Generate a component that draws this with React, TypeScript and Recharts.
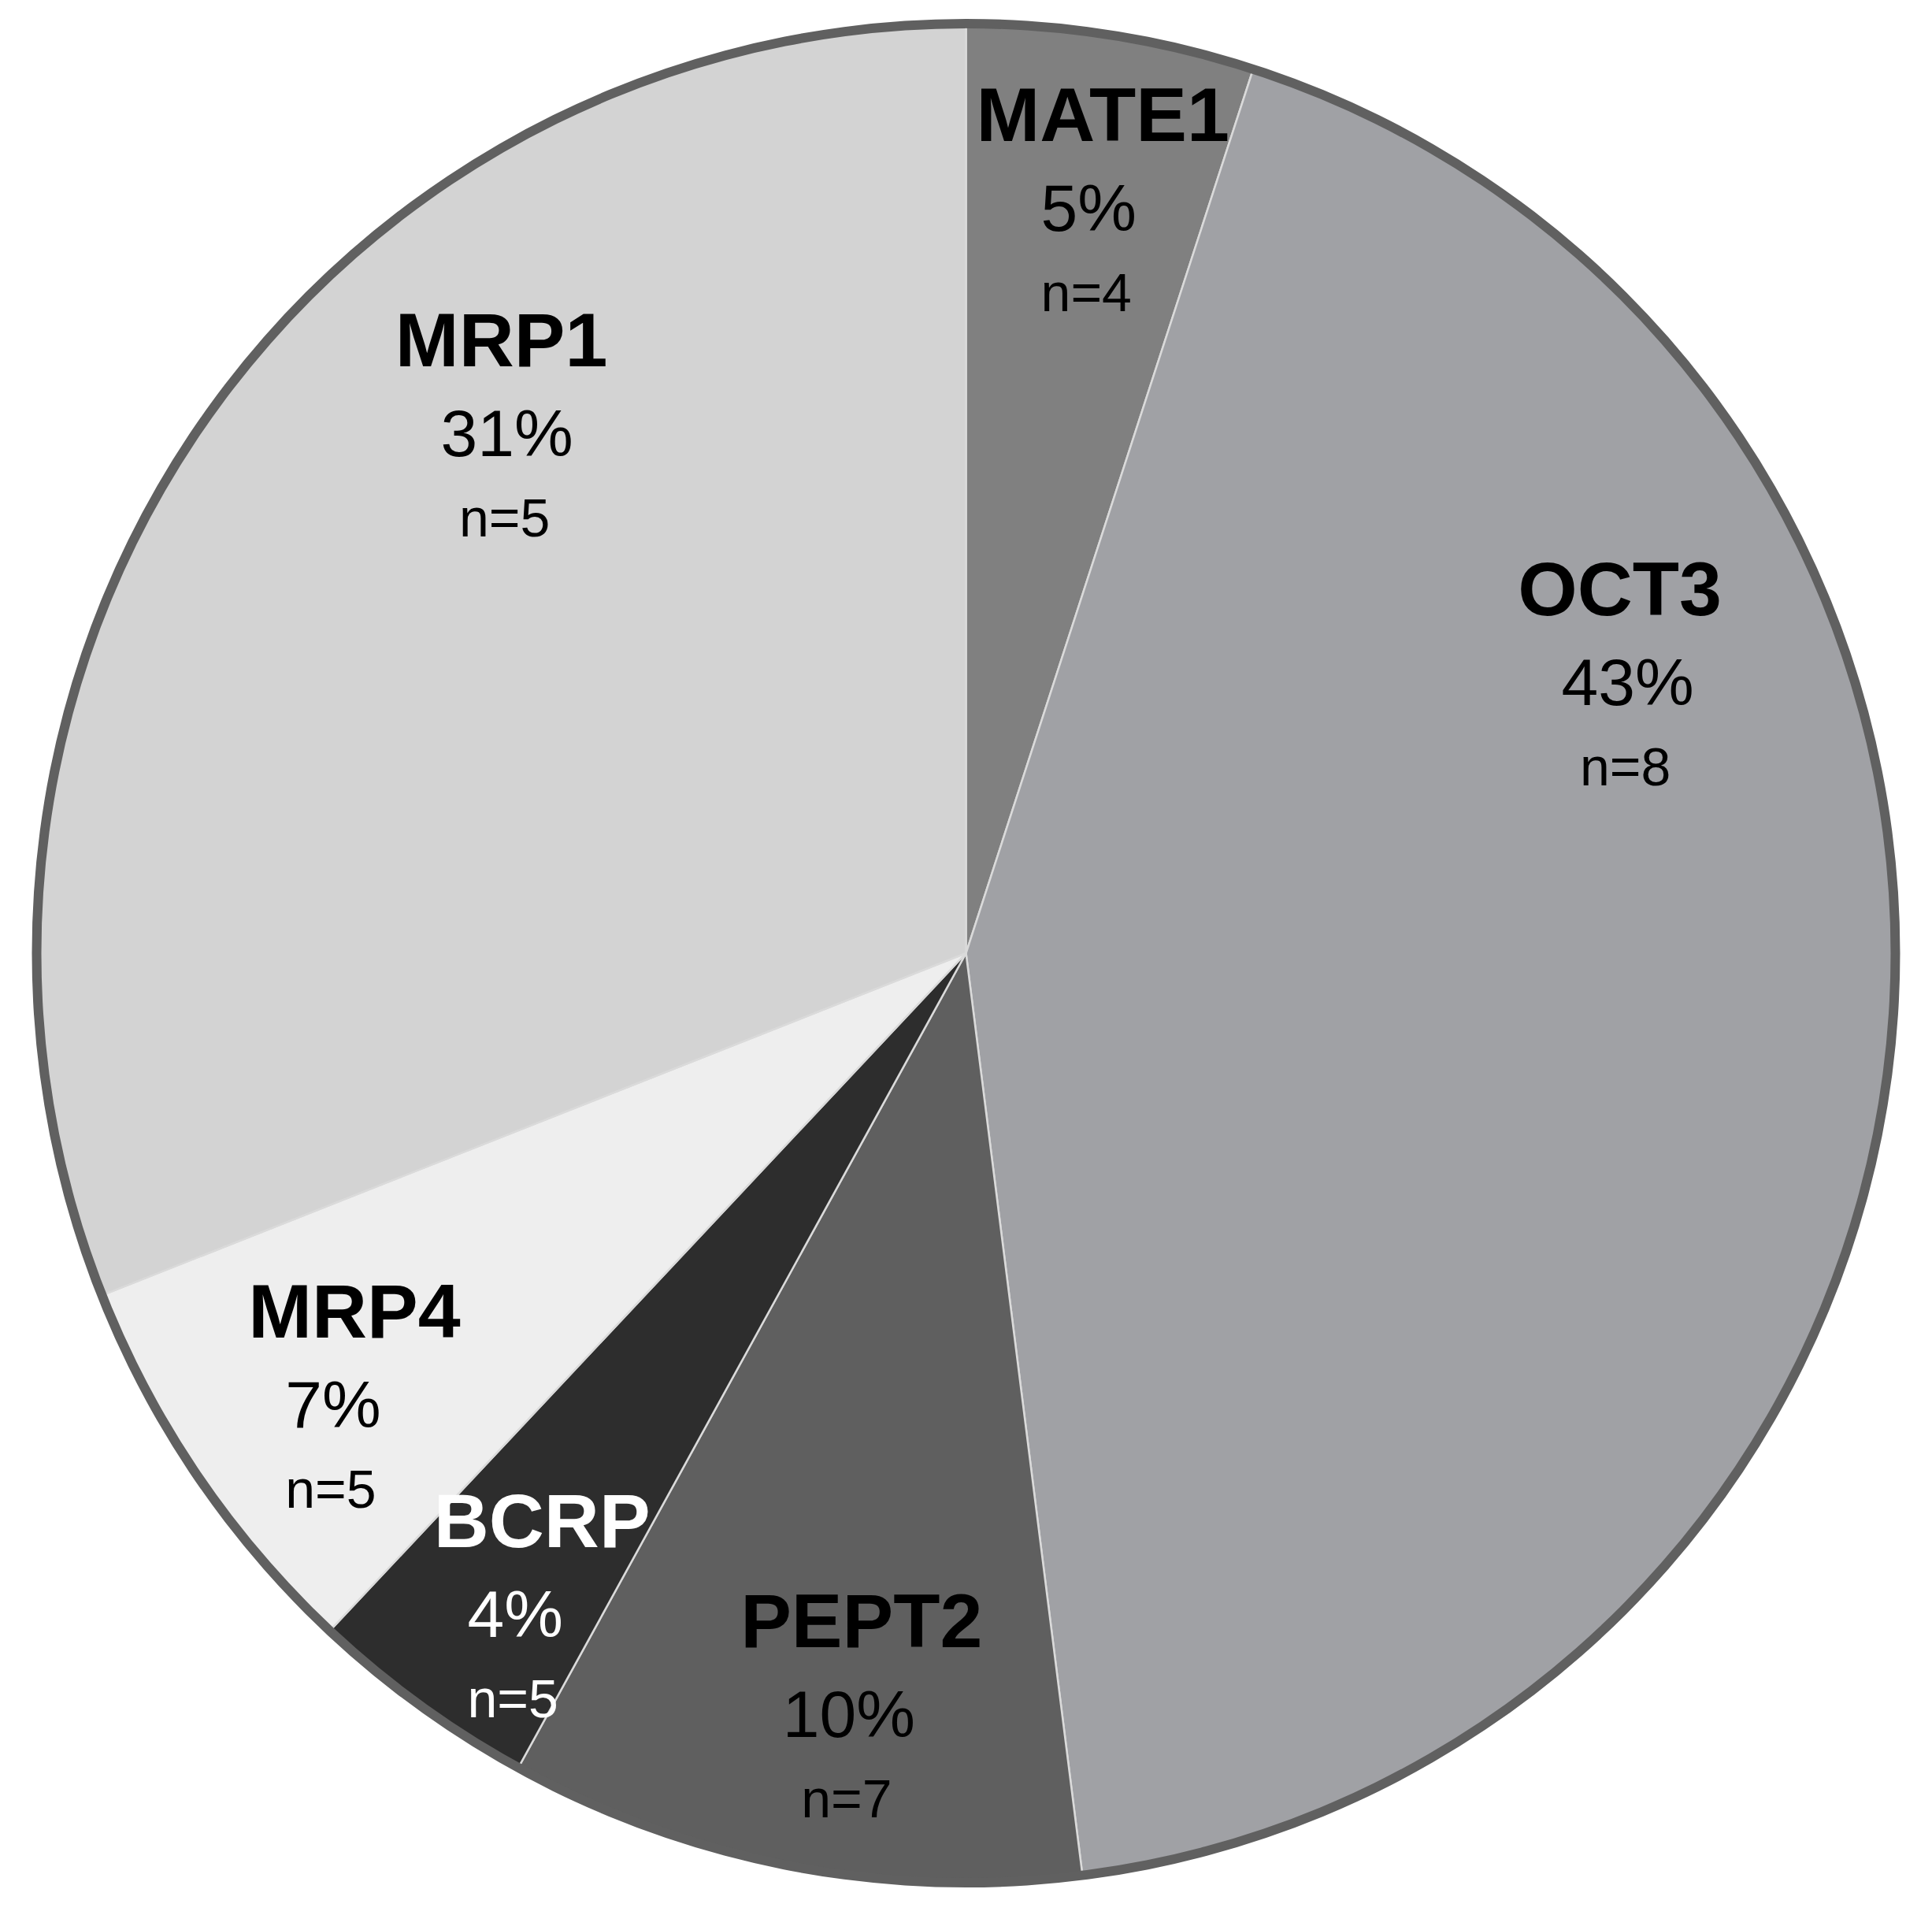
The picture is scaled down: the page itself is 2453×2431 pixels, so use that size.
import React from 'react';
import { PieChart, Pie, Cell } from 'recharts';

// transporter shares, clockwise from 12 o'clock
const transporters = ['MATE1', 'OCT3', 'PEPT2', 'BCRP', 'MRP4', 'MRP1'];
const shares = [5, 43, 10, 4, 7, 31];
const sampleCounts = [4, 8, 7, 5, 5, 5];

const sliceColors = ['#808080', '#a0a1a5', '#5f5f5f', '#2d2d2d', '#eeeeee', '#d3d3d3'];
const textColors = ['#000', '#000', '#000', '#fff', '#000', '#000'];

// hand placed label anchors, as a fraction of the radius from the centre
const labelSpots: Record<string, { fx: number; fy: number; nameDx: number }> = {
  MATE1: { fx: 0.132, fy: -0.777, nameDx: 18 },
  OCT3: { fx: 0.712, fy: -0.267, nameDx: -10 },
  PEPT2: { fx: -0.126, fy: 0.843, nameDx: 16 },
  BCRP: { fx: -0.485, fy: 0.736, nameDx: 34 },
  MRP4: { fx: -0.681, fy: 0.51, nameDx: 27 },
  MRP1: { fx: -0.494, fy: -0.535, nameDx: -7 },
};

const W = 2453;
const H = 2431;
const CX = 1226.5;
const CY = 1210;
const R = 1180;
const FONT = '"Liberation Sans", Arial, Helvetica, sans-serif';

const data = transporters.map((name, i) => ({
  name,
  value: shares[i],
  n: sampleCounts[i],
}));

const ring = [{ name: 'ring', value: 1 }];

const renderLabel = (props: any) => {
  const { index } = props;
  const cx = typeof props.cx === 'number' ? props.cx : CX;
  const cy = typeof props.cy === 'number' ? props.cy : CY;
  const r = typeof props.outerRadius === 'number' ? props.outerRadius : R;
  const name = transporters[index];
  const spot = labelSpots[name];
  const x = cx + spot.fx * r;
  const y = cy + spot.fy * r;
  const color = textColors[index];
  return (
    <g key={`lbl-${index}`}>
      <text
        x={x + spot.nameDx}
        y={y - 114}
        textAnchor="middle"
        fontFamily={FONT}
        fontWeight="bold"
        fontSize={97}
        fill={color}
      >
        {name}
      </text>
      <text x={x} y={y} textAnchor="middle" fontFamily={FONT} fontSize={84} fill={color}>
        {`${shares[index]}%`}
      </text>
      <text x={x - 3} y={y + 102} textAnchor="middle" fontFamily={FONT} fontSize={68} fill={color}>
        {`n=${sampleCounts[index]}`}
      </text>
    </g>
  );
};

export default function App() {
  return (
    <div style={{ width: W, height: H, background: '#fff' }}>
      <style>{'body{margin:0}'}</style>
      <PieChart width={W} height={H} margin={{ top: 0, right: 0, bottom: 0, left: 0 }}>
        <Pie
          data={data}
          dataKey="value"
          nameKey="name"
          cx={CX}
          cy={CY}
          outerRadius={R}
          startAngle={90}
          endAngle={-270}
          stroke="#dadada"
          strokeWidth={2.5}
          label={renderLabel}
          labelLine={false}
          isAnimationActive={false}
        >
          {data.map((entry, i) => (
            <Cell key={`cell-${entry.name}`} fill={sliceColors[i]} />
          ))}
        </Pie>
        <Pie
          data={ring}
          dataKey="value"
          cx={CX}
          cy={CY}
          innerRadius={R - 6}
          outerRadius={R + 6}
          startAngle={90}
          endAngle={-270}
          fill="#606060"
          stroke="none"
          isAnimationActive={false}
        />
      </PieChart>
    </div>
  );
}
